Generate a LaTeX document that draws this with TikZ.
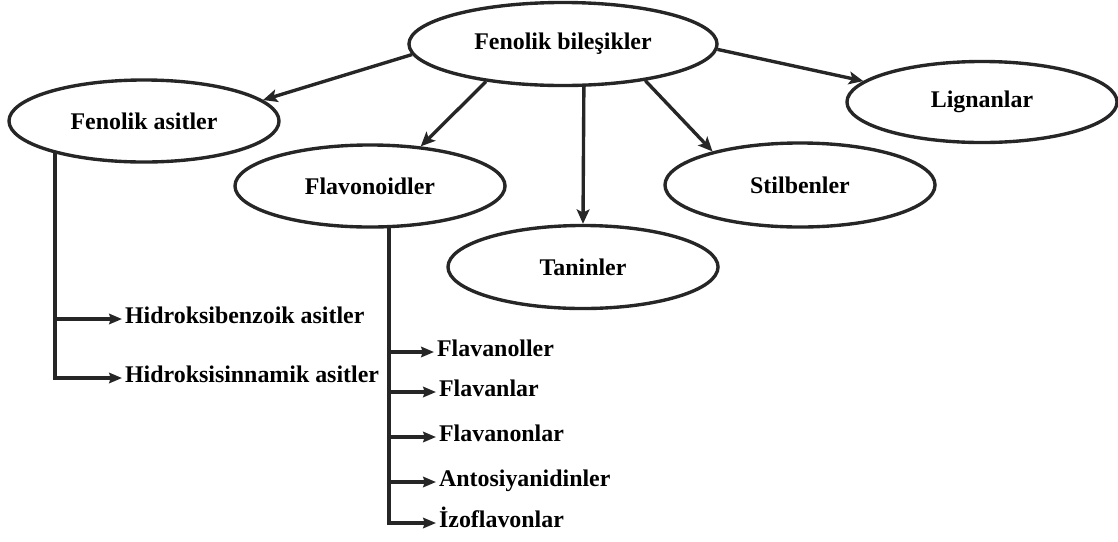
\documentclass[tikz,border=0pt]{standalone}
\usepackage{fontspec}
\setmainfont{Liberation Serif}
\usetikzlibrary{shapes.geometric,arrows.meta}

\begin{document}
\begin{tikzpicture}[x=0.025cm, y=-0.025cm,
    oval/.style={ellipse, draw=black!85, line width=2.4pt, minimum width=6.75cm, minimum height=2.05cm, inner sep=0pt, font=\fontsize{17}{20}\selectfont\bfseries},
    leaf/.style={anchor=west, inner sep=2pt, text height=1.5ex, text depth=0pt, font=\fontsize{17}{20}\selectfont\bfseries},
    bigarrow/.style={draw=black!85, line width=2.4pt, -{Stealth[length=0.36cm, width=0.32cm, inset=0.08cm]}},
    smallarrow/.style={draw=black!85, line width=2.4pt, -{Stealth[length=0.32cm, width=0.26cm, inset=0.04cm]}}]
    % Page size
    \useasboundingbox (0,0) rectangle (1118,541);

    % Ellipses
    \node[oval, minimum width=7.7cm, minimum height=2.075cm] (fb) at (563,44) {Fenolik bileşikler};
    \node[oval] (fa) at (144,121) {Fenolik asitler};
    \node[oval] (fl) at (370,186) {Flavonoidler};
    \node[oval, minimum height=2.075cm] (tn) at (583,267) {Taninler};
    \node[oval, minimum height=2.1cm] (st) at (800,185) {Stilbenler};
    \node[oval, minimum height=2.025cm] (lg) at (982,102) {Lignanlar};

    % Leaves under Fenolik asitler
    \node[leaf] (hb) at (122,319) {Hidroksibenzoik asitler};
    \node[leaf] (hs) at (122,378) {Hidroksisinnamik asitler};

    % Leaves under Flavonoidler
    \node[leaf] (f1) at (434,352) {Flavanoller};
    \node[leaf] (f2) at (436,392) {Flavanlar};
    \node[leaf] (f3) at (436,437) {Flavanonlar};
    \node[leaf] (f4) at (436,482) {Antosiyanidinler};
    \node[leaf] (f5) at (436,523) {İzoflavonlar};

    % Arrows from Fenolik bileşikler
    \draw[bigarrow] (fb.184) -- (fa.10);
    \draw[bigarrow] (fb.206) -- (fl.38);
    \draw[bigarrow] (fb.296) -- (tn.north);
    \draw[bigarrow] (fb.336) -- (st.159);
    \draw[bigarrow] (fb.358) -- (lg.170);

    % Branch of Fenolik asitler
    \draw[smallarrow] (fa.200) |- (hs.west);
    \draw[smallarrow] (fa.200 |- hb.west) -- (hb.west);

    % Branch of Flavonoidler
    \draw[smallarrow] (fl.294) |- (f5.west);
    \foreach \n in {f1,f2,f3,f4}
        \draw[smallarrow] (fl.294 |- \n.west) -- (\n.west);
\end{tikzpicture}
\end{document}
